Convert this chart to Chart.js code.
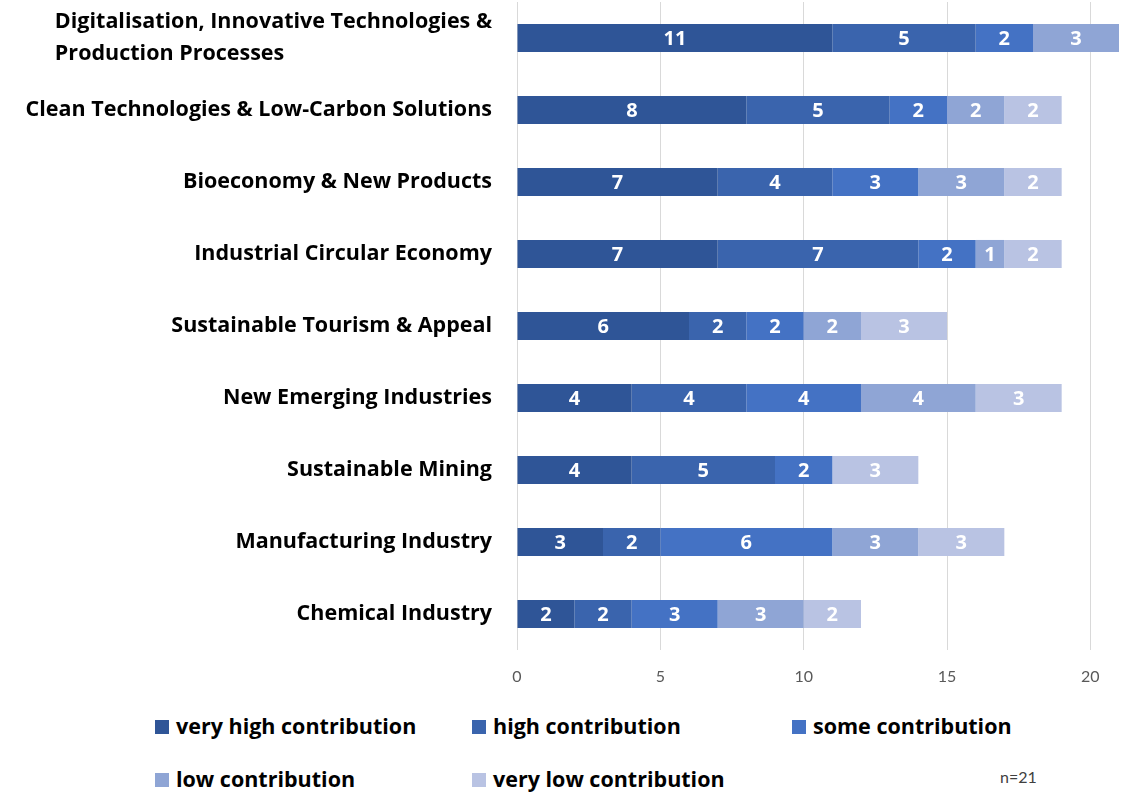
<!DOCTYPE html>
<html>
<head>
<meta charset="utf-8">
<script src="https://cdn.jsdelivr.net/npm/chart.js@4/dist/chart.umd.min.js"></script>
<style>
  body { margin: 0; background: #fff; font-family: "Open Sans", sans-serif; }
  #wrap { position: relative; width: 1128px; height: 793px; }
  #chart { position: absolute; left: 0; top: 0; }
  .leg { position: absolute; font: bold 21.5px "Open Sans", sans-serif; color: #000; white-space: nowrap; }
  .leg i { display: inline-block; width: 14px; height: 14px; margin-right: 7px; vertical-align: 0px; }
  #n { position: absolute; left: 1000px; top: 767px; font: 16px Lato, sans-serif; color: #404040; }
</style>
</head>
<body>
<div id="wrap">
  <canvas id="chart" width="1128" height="700"></canvas>
  <div id="legend"></div>
  <div id="n">n=21</div>
</div>
<script>
const categories = [
  ['Digitalisation, Innovative Technologies &', 'Production Processes'],
  'Clean Technologies & Low-Carbon Solutions',
  'Bioeconomy & New Products',
  'Industrial Circular Economy',
  'Sustainable Tourism & Appeal',
  'New Emerging Industries',
  'Sustainable Mining',
  'Manufacturing Industry',
  'Chemical Industry'
];
const seriesNames = ['very high contribution', 'high contribution', 'some contribution', 'low contribution', 'very low contribution'];
const veryHigh = [11, 8, 7, 7, 6, 4, 4, 3, 2];
const high     = [5, 5, 4, 7, 2, 4, 5, 2, 2];
const some     = [2, 2, 3, 2, 2, 4, 2, 6, 3];
const low      = [3, 2, 3, 1, 2, 4, 0, 3, 3];
const veryLow  = [0, 2, 2, 2, 3, 3, 3, 3, 2];
const xTicks = [0, 5, 10, 15, 20];

const colors = ['#2f5597', '#3a64ad', '#4472c4', '#8fa5d5', '#b9c3e3'];
const values = [veryHigh, high, some, low, veryLow];

// white numbers in the middle of each segment
const segLabels = {
  id: 'segLabels',
  afterDatasetsDraw(chart) {
    const ctx = chart.ctx;
    ctx.save();
    ctx.font = 'bold 20px "Open Sans", sans-serif';
    ctx.fillStyle = '#fff';
    ctx.textAlign = 'center';
    ctx.textBaseline = 'middle';
    chart.data.datasets.forEach((ds, i) => {
      chart.getDatasetMeta(i).data.forEach((bar, j) => {
        const v = ds.data[j];
        if (!v) return;
        const p = bar.getProps(['x', 'y', 'base'], true);
        ctx.fillText(String(v), (p.x + p.base) / 2, p.y + 1);
      });
    });
    ctx.restore();
  }
};

// category labels: block right aligned, lines left aligned
const catLabels = {
  id: 'catLabels',
  afterDraw(chart) {
    const ctx = chart.ctx;
    const y = chart.scales.y;
    ctx.save();
    ctx.font = 'bold 21.5px "Open Sans", sans-serif';
    ctx.fillStyle = '#000';
    ctx.textBaseline = 'middle';
    ctx.textAlign = 'left';
    const right = 492;
    const lh = 32;
    categories.forEach((c, i) => {
      const lines = Array.isArray(c) ? c : [c];
      const w = Math.max(...lines.map(l => ctx.measureText(l).width));
      const cy = y.getPixelForValue(i);
      const y0 = cy - (lines.length - 1) * lh / 2;
      lines.forEach((l, k) => ctx.fillText(l, right - w, y0 + k * lh));
    });
    ctx.restore();
  }
};

new Chart(document.getElementById('chart'), {
  type: 'bar',
  data: {
    labels: categories,
    datasets: values.map((d, i) => ({
      label: seriesNames[i],
      data: d,
      backgroundColor: colors[i],
      barPercentage: 0.78,
      categoryPercentage: 0.5
    }))
  },
  plugins: [segLabels, catLabels],
  options: {
    indexAxis: 'y',
    responsive: false,
    animation: false,
    layout: { padding: { top: 2, right: 9, left: 0, bottom: 0 } },
    scales: {
      x: {
        stacked: true,
        min: 0,
        max: 21,
        afterBuildTicks: s => { s.ticks = xTicks.map(v => ({ value: v })); },
        afterFit: s => { s.height = 50; },
        grid: { color: '#d9d9d9', drawTicks: false },
        border: { display: false },
        ticks: { color: '#595959', font: { family: 'Lato', size: 16 }, padding: 17 }
      },
      y: {
        stacked: true,
        afterFit: s => { s.width = 517; },
        grid: { display: false },
        border: { display: false },
        ticks: { display: false }
      }
    },
    plugins: {
      legend: { display: false },
      tooltip: { enabled: false }
    }
  }
});

// legend below the chart
const legPos = [[155, 711], [472, 711], [792, 711], [155, 764], [472, 764]];
const legend = document.getElementById('legend');
seriesNames.forEach((name, i) => {
  const el = document.createElement('div');
  el.className = 'leg';
  el.style.left = legPos[i][0] + 'px';
  el.style.top = legPos[i][1] + 'px';
  el.innerHTML = '<i style="background:' + colors[i] + '"></i>' + name;
  legend.appendChild(el);
});
</script>
</body>
</html>
